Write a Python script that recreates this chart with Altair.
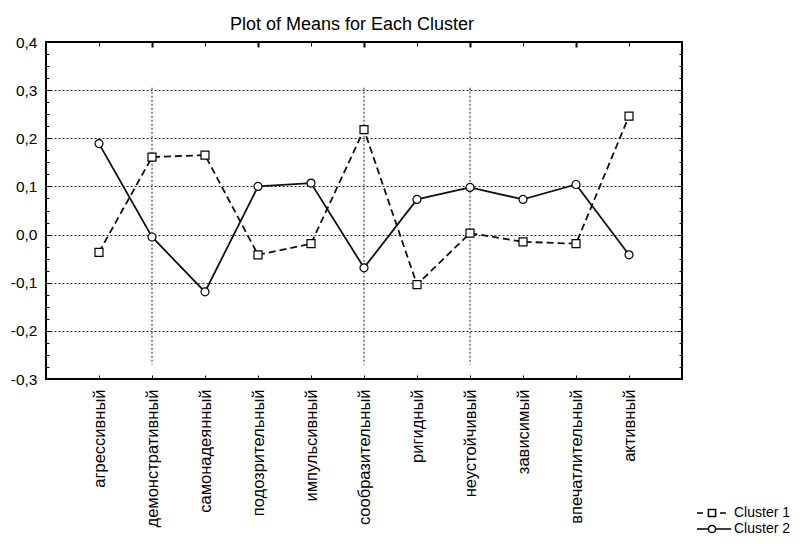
import altair as alt
import pandas as pd

# ---------------- data ----------------
categories = ["агрессивный", "демонстративный", "самонадеянный", "подозрительный",
              "импульсивный", "сообразительный", "ригидный", "неустойчивый",
              "зависимый", "впечатлительный", "активный"]
cluster1 = [-0.037, 0.161, 0.165, -0.042, -0.019, 0.218, -0.104, 0.003, -0.015, -0.019, 0.246]
cluster2 = [0.189, -0.005, -0.119, 0.100, 0.107, -0.069, 0.073, 0.098, 0.073, 0.104, -0.042]
series_names = ["Cluster 1", "Cluster 2"]

y_ticks = [-0.3, -0.2, -0.1, 0.0, 0.1, 0.2, 0.3, 0.4]
y_minor = [round(-0.3 + 0.025 * i, 3) for i in range(29)]
grid_categories = ["демонстративный", "сообразительный", "неустойчивый"]
grid_span = [0.305, -0.27]
major_top = ["демонстративный", "подозрительный", "сообразительный", "неустойчивый", "впечатлительный"]

rows = []
for name, vals in zip(series_names, [cluster1, cluster2]):
    for c, v in zip(categories, vals):
        rows.append({"category": c, "value": v, "cluster": name})
df = pd.DataFrame(rows)
vgrid_df = pd.DataFrame({"category": grid_categories,
                         "y0": [grid_span[0]] * len(grid_categories),
                         "y1": [grid_span[1]] * len(grid_categories)})

FONT = "Liberation Sans"
xs = alt.Scale(type="point", domain=categories, padding=1)
ys = alt.Scale(domain=[-0.3, 0.4], nice=False, zero=False)

# ---------------- layers ----------------
vgrid = alt.Chart(vgrid_df).mark_rule(color="#222", strokeWidth=1, strokeDash=[2, 2]).encode(
    x=alt.X("category:N", scale=xs, sort=categories,
            axis=alt.Axis(orient="bottom", labelAngle=270, labelFontSize=16.5, labelFont=FONT,
                          labelColor="black", ticks=False, domain=False, grid=False,
                          labelPadding=10, title=None, labelOverlap=False, labelBound=False)),
    y=alt.Y("y0:Q", scale=ys,
            axis=alt.Axis(orient="left", values=y_ticks, ticks=False, domain=False, grid=True,
                          gridColor="#222", gridDash=[2, 2], gridWidth=1,
                          labelExpr="replace(replace(format(datum.value, '.1f'), '.', ','), '\u2212', '-')",
                          labelFontSize=15.5, labelFont=FONT, labelColor="black", labelPadding=9,
                          title=None)),
    y2="y1:Q",
)

line1 = alt.Chart(df).transform_filter(alt.datum.cluster == series_names[0]).mark_line(
    color="#111", strokeWidth=1.8, strokeDash=[7, 4]).encode(
    x=alt.X("category:N", scale=xs, sort=categories,
            axis=alt.Axis(orient="bottom", offset=-4, tickSize=4, labels=False, domain=False,
                          grid=False, title=None, tickColor="black")),
    y=alt.Y("value:Q", scale=ys,
            axis=alt.Axis(orient="left", values=y_minor, offset=-3, tickSize=3, labels=False,
                          domain=False, grid=False, title=None, tickColor="black")),
)

line2 = alt.Chart(df).transform_filter(alt.datum.cluster == series_names[1]).mark_line(
    color="#111", strokeWidth=1.8).encode(
    x=alt.X("category:N", scale=xs, sort=categories,
            axis=alt.Axis(orient="top", offset=-4, tickSize=4, labels=False, domain=False,
                          grid=False, title=None, tickColor="black")),
    y=alt.Y("value:Q", scale=ys,
            axis=alt.Axis(orient="right", values=y_minor, offset=-3, tickSize=3, labels=False,
                          domain=False, grid=False, title=None, tickColor="black")),
)

pts1 = alt.Chart(df).transform_filter(alt.datum.cluster == series_names[0]).mark_point(
    shape="square", size=64, filled=True, fill="white", stroke="black", strokeWidth=1.2, opacity=1).encode(
    x=alt.X("category:N", scale=xs, sort=categories,
            axis=alt.Axis(orient="top", values=major_top, offset=-5, tickSize=5, tickWidth=2,
                          labels=False, domain=False, grid=False, title=None, tickColor="black")),
    y=alt.Y("value:Q", scale=ys,
            axis=alt.Axis(orient="left", values=y_ticks, offset=-5, tickSize=5, labels=False,
                          domain=False, grid=False, title=None, tickColor="black")),
)

pts2 = alt.Chart(df).transform_filter(alt.datum.cluster == series_names[1]).mark_point(
    shape="circle", size=64, filled=True, fill="white", stroke="black", strokeWidth=1.2, opacity=1).encode(
    x=alt.X("category:N", scale=xs, sort=categories, axis=None),
    y=alt.Y("value:Q", scale=ys,
            axis=alt.Axis(orient="right", values=y_ticks, offset=-5, tickSize=5, labels=False,
                          domain=False, grid=False, title=None, tickColor="black")),
)

# frame around the plot area
frame = alt.Chart(pd.DataFrame({"k": [0]})).mark_rect(
    fill="transparent", stroke="black", strokeWidth=2).encode(
    x=alt.value(0), x2=alt.value({"expr": "width"}),
    y=alt.value(0), y2=alt.value({"expr": "height"}),
)

path1 = "M-1.875,0H-1.125M-0.45,-0.45H0.45V0.45H-0.45ZM1,0H1.75"
path2 = ("M-1.875,0H-0.45M0.45,0H2.4M0.45,0A0.45,0.45 0 1,1 -0.45,0"
         "A0.45,0.45 0 1,1 0.45,0Z")

legend_layer = alt.Chart(df).transform_filter("false").mark_point(
    filled=False, color="black", strokeWidth=1.5).encode(
    x=alt.X("category:N", scale=xs, sort=categories, axis=None),
    y=alt.Y("value:Q", scale=ys, axis=None),
    shape=alt.Shape("cluster:N",
                    scale=alt.Scale(domain=series_names, range=[path1, path2]),
                    legend=alt.Legend(orient="none", legendX=657, legendY=462, title=None,
                                      symbolSize=256, symbolOpacity=1,
                                      symbolStrokeColor="black", symbolStrokeWidth=1.5,
                                      labelFontSize=14, labelFont=FONT, labelColor="black",
                                      labelOffset=13, rowPadding=0, padding=0)),
)

chart = alt.layer(vgrid, line1, line2, pts1, pts2, frame, legend_layer).resolve_axis(
    x="independent", y="independent"
).properties(
    width=636, height=337,
    autosize=alt.AutoSizeParams(type="none"),
    padding={"left": 38, "top": 34, "right": 112, "bottom": 157},
    title=alt.TitleParams("Plot of Means for Each Cluster", fontSize=18, font=FONT,
                          fontWeight="normal", color="black", anchor="middle", dx=-12,
                          offset=1),
).configure_view(stroke="black", strokeWidth=2).configure(background="white")

chart.save("out.html", embed_options={"renderer": "svg", "actions": False})
